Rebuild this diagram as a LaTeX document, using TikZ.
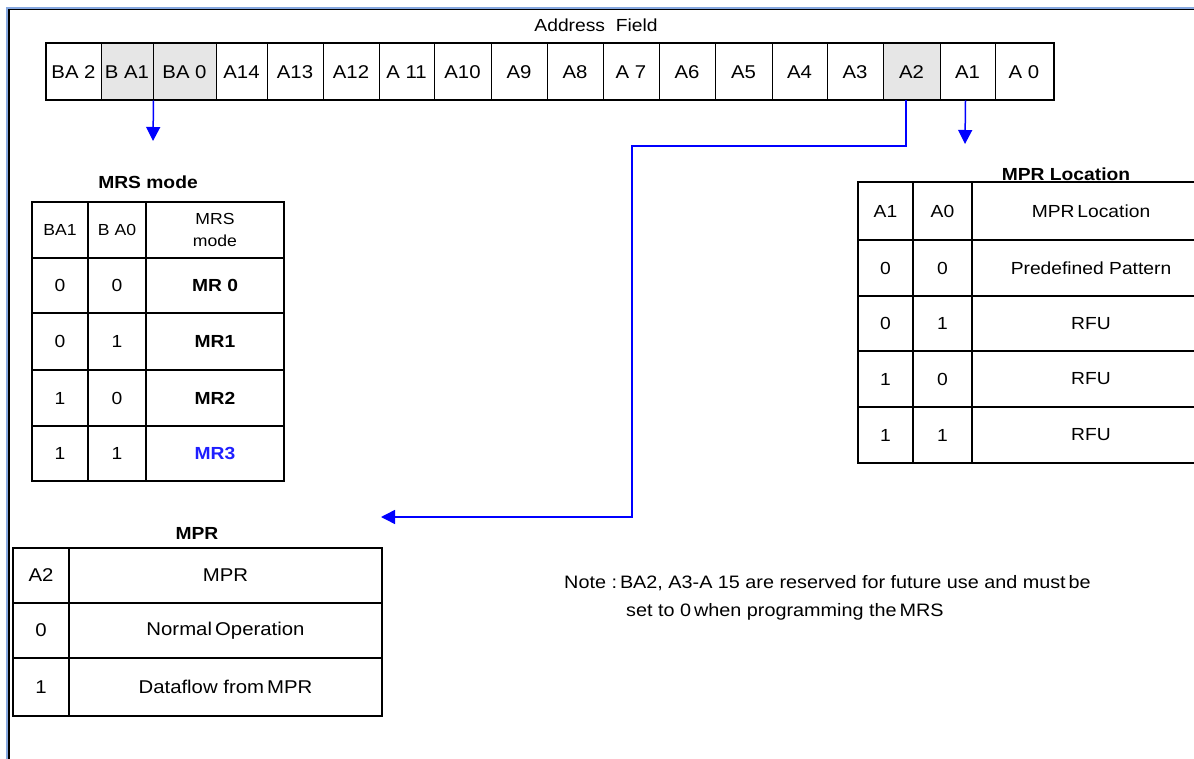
\documentclass[tikz,border=0pt]{standalone}
\usepackage{fontspec}
\setmainfont{Liberation Sans}[FakeStretch=1.1]
\usepackage{tikz}
\usetikzlibrary{arrows.meta,positioning}
\definecolor{shade}{HTML}{E6E6E6}
\definecolor{linkblue}{HTML}{0000FF}
\definecolor{frameblue}{HTML}{86A8E0}
\definecolor{modeblue}{HTML}{1F1FFF}
\tikzset{>={Triangle[width=14pt,length=14pt]}}
\tikzset{
    cell/.style={draw,line width=1pt,inner sep=0pt,minimum height=56pt,font=\fontsize{18.5}{20}\selectfont},
    hicell/.style={cell,fill=shade},
    tcell/.style={draw,line width=1.5pt,inner sep=0pt,align=center,font=\fontsize{17.5}{19}\selectfont},
    tabtitle/.style={inner sep=0pt,font=\fontsize{17.5}{19}\selectfont\bfseries},
    link/.style={draw=linkblue,line width=1.5pt,->},
    notetext/.style={inner sep=0pt,anchor=west,font=\fontsize{18}{20}\selectfont}
}
\begin{document}
\begin{tikzpicture}[x=1pt,y=-1pt]
    \useasboundingbox (0,0) rectangle (1194,759);
    \fill[white] (0,0) rectangle (1194,759);
    % page frame
    \draw[frameblue,line width=2pt] (7,759) -- (7,8) -- (1194,8);
    \draw[line width=1.2pt] (9,759) -- (9,9.5) -- (1194,9.5);

    % address field
    \node[inner sep=0pt,font=\fontsize{17.5}{19}\selectfont] (afield) at (596,25) {Address\ \ Field};
    \node[cell,minimum width=55pt] (ba2) at (73.5,72) {BA 2};
    \node[hicell,minimum width=52pt] (ba1) at (127,72) {B A1};
    \node[hicell,minimum width=63pt] (ba0) at (184.5,72) {BA 0};
    \node[cell,minimum width=51pt] (a14) at (241.5,72) {A14};
    \node[cell,minimum width=56pt] (a13) at (295,72) {A13};
    \node[cell,minimum width=56pt] (a12) at (351,72) {A12};
    \node[cell,minimum width=55pt] (a11) at (406.5,72) {A 11};
    \node[cell,minimum width=57pt] (a10) at (462.5,72) {A10};
    \node[cell,minimum width=56pt] (a9) at (519,72) {A9};
    \node[cell,minimum width=56pt] (a8) at (575,72) {A8};
    \node[cell,minimum width=56pt] (a7) at (631,72) {A 7};
    \node[cell,minimum width=56pt] (a6) at (687,72) {A6};
    \node[cell,minimum width=57pt] (a5) at (743.5,72) {A5};
    \node[cell,minimum width=55pt] (a4) at (799.5,72) {A4};
    \node[cell,minimum width=56pt] (a3) at (855,72) {A3};
    \node[hicell,minimum width=57pt] (a2) at (911.5,72) {A2};
    \node[cell,minimum width=55pt] (a1) at (967.5,72) {A1};
    \node[cell,minimum width=58pt] (a0) at (1024,72) {A 0};
    \draw[line width=2pt] (ba2.north west) rectangle (a0.south east);

    % MRS mode table
    \node[tabtitle] (mrstitle) at (148,182) {MRS mode};
    \node[tcell,minimum width=56pt,minimum height=56pt,font=\fontsize{16}{22}\selectfont] (mrs01) at (60,230) {BA1};
    \node[tcell,minimum width=58pt,minimum height=56pt,font=\fontsize{16}{22}\selectfont] (mrs02) at (117,230) {B A0};
    \node[tcell,minimum width=138pt,minimum height=56pt,font=\fontsize{16}{22}\selectfont] (mrs03) at (215,230) {MRS\\mode};
    \node[tcell,minimum width=56pt,minimum height=55pt] (mrs11) at (60,285.5) {0};
    \node[tcell,minimum width=58pt,minimum height=55pt] (mrs12) at (117,285.5) {0};
    \node[tcell,minimum width=138pt,minimum height=55pt] (mrs13) at (215,285.5) {\bfseries MR 0};
    \node[tcell,minimum width=56pt,minimum height=57pt] (mrs21) at (60,341.5) {0};
    \node[tcell,minimum width=58pt,minimum height=57pt] (mrs22) at (117,341.5) {1};
    \node[tcell,minimum width=138pt,minimum height=57pt] (mrs23) at (215,341.5) {\bfseries MR1};
    \node[tcell,minimum width=56pt,minimum height=56pt] (mrs31) at (60,398) {1};
    \node[tcell,minimum width=58pt,minimum height=56pt] (mrs32) at (117,398) {0};
    \node[tcell,minimum width=138pt,minimum height=56pt] (mrs33) at (215,398) {\bfseries MR2};
    \node[tcell,minimum width=56pt,minimum height=55pt] (mrs41) at (60,453.5) {1};
    \node[tcell,minimum width=58pt,minimum height=55pt] (mrs42) at (117,453.5) {1};
    \node[tcell,minimum width=138pt,minimum height=55pt,text=modeblue] (mrs43) at (215,453.5) {\bfseries MR3};

    % MPR location table
    \node[tabtitle] (loctitle) at (1066,174) {MPR Location};
    \node[tcell,minimum width=55pt,minimum height=58pt] (loc01) at (885.5,211) {A1};
    \node[tcell,minimum width=59pt,minimum height=58pt] (loc02) at (942.5,211) {A0};
    \node[tcell,minimum width=238pt,minimum height=58pt] (loc03) at (1091,211) {MPR\,Location};
    \node[tcell,minimum width=55pt,minimum height=56pt] (loc11) at (885.5,268) {0};
    \node[tcell,minimum width=59pt,minimum height=56pt] (loc12) at (942.5,268) {0};
    \node[tcell,minimum width=238pt,minimum height=56pt] (loc13) at (1091,268) {Predefined Pattern};
    \node[tcell,minimum width=55pt,minimum height=55pt] (loc21) at (885.5,323.5) {0};
    \node[tcell,minimum width=59pt,minimum height=55pt] (loc22) at (942.5,323.5) {1};
    \node[tcell,minimum width=238pt,minimum height=55pt] (loc23) at (1091,323.5) {RFU};
    \node[tcell,minimum width=55pt,minimum height=56pt] (loc31) at (885.5,379) {1};
    \node[tcell,minimum width=59pt,minimum height=56pt] (loc32) at (942.5,379) {0};
    \node[tcell,minimum width=238pt,minimum height=56pt] (loc33) at (1091,379) {RFU};
    \node[tcell,minimum width=55pt,minimum height=56pt] (loc41) at (885.5,435) {1};
    \node[tcell,minimum width=59pt,minimum height=56pt] (loc42) at (942.5,435) {1};
    \node[tcell,minimum width=238pt,minimum height=56pt] (loc43) at (1091,435) {RFU};

    % MPR table
    \node[tabtitle] (mprtitle) at (197,533) {MPR};
    \node[tcell,minimum width=56pt,minimum height=55pt,font=\fontsize{18.5}{20}\selectfont] (mpr01) at (41,575.5) {A2};
    \node[tcell,minimum width=313pt,minimum height=55pt,font=\fontsize{18.5}{20}\selectfont] (mpr02) at (225.5,575.5) {MPR};
    \node[tcell,minimum width=56pt,minimum height=55pt,font=\fontsize{18.5}{20}\selectfont] (mpr11) at (41,630.5) {0};
    \node[tcell,minimum width=313pt,minimum height=55pt,font=\fontsize{18.5}{20}\selectfont] (mpr12) at (225.5,630.5) {Normal\,Operation};
    \node[tcell,minimum width=56pt,minimum height=58pt,font=\fontsize{18.5}{20}\selectfont] (mpr21) at (41,687) {1};
    \node[tcell,minimum width=313pt,minimum height=58pt,font=\fontsize{18.5}{20}\selectfont] (mpr22) at (225.5,687) {Dataflow from\,MPR};

    % note
    \node[notetext] (note1) at (564,583) {Note :\,BA2, A3-A 15 are reserved for future use and must\,be};
    \node[notetext] (note2) at (626,612) {set to 0\,when programming the\,MRS};

    % connectors
    \coordinate (mrsin) at (153,141);
    \coordinate (locin) at (965,144);
    \coordinate (bend) at (632,146);
    \coordinate (mprin) at (381,517);
    \draw[link] (ba1.south east) -- (mrsin);
    \draw[link] ([xshift=-2pt]a1.south) -- (locin);
    \draw[link] ([xshift=-5.5pt]a2.south) |- (bend) |- (mprin);
\end{tikzpicture}
\end{document}
